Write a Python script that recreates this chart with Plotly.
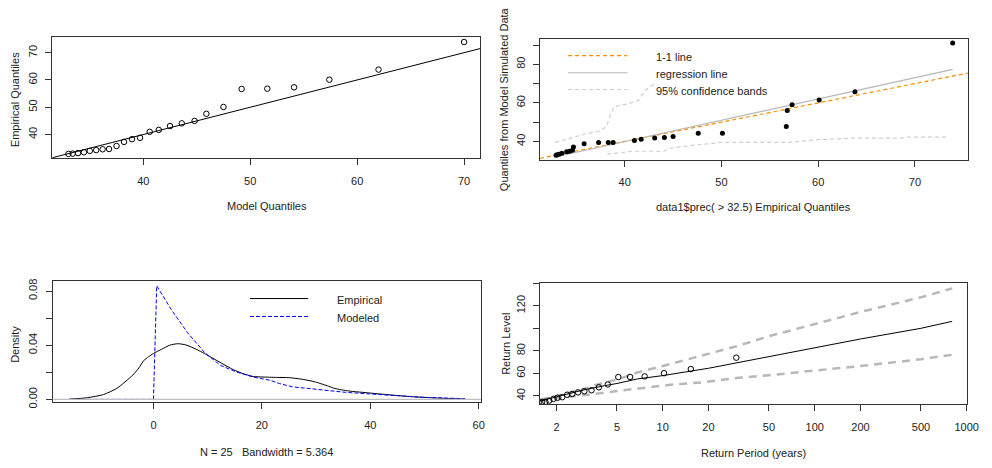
import numpy as np
import plotly.graph_objects as go

# ---------------- data ----------------
# Panel 1 / 2: quantiles
model_q = [33.0, 33.4, 33.9, 34.45, 35.0, 35.6, 36.2, 36.8, 37.5, 38.2, 38.95, 39.7, 40.6,
           41.45, 42.5, 43.6, 44.8, 45.9, 47.5, 49.2, 51.6, 54.1, 57.4, 62.0, 70.0]
emp_q = [32.9, 33.0, 33.2, 33.5, 34.0, 34.3, 34.6, 34.7, 35.8, 37.3, 38.3, 38.8, 41.0,
         41.7, 43.1, 44.1, 45.0, 47.6, 50.1, 56.7, 56.8, 57.3, 60.1, 63.8, 73.9]
sim_q = [32.8, 33.1, 33.4, 33.9, 34.7, 34.9, 35.4, 37.1, 38.8, 39.5, 39.5, 39.5, 40.5,
         41.1, 41.8, 42.1, 42.6, 44.3, 44.3, 47.7, 56.0, 59.0, 61.5, 65.8, 91.0]
band_up_x = [32.8, 34.5, 36.0, 37.5, 38.0, 38.2, 38.5, 38.9, 40.4, 41.4, 42.1, 43.0]
band_up_y = [39.5, 42.0, 44.0, 45.5, 47.5, 49.0, 53.6, 57.9, 59.6, 61.3, 66.4, 69.8]
band_lo_x = [38.2, 40.7, 44.0, 44.8, 47.6, 50.0, 57.0, 60.0, 63.5, 68.5, 69.0, 73.4]
band_lo_y = [33.4, 34.9, 34.9, 36.6, 38.3, 39.5, 39.5, 40.9, 41.7, 41.7, 42.2, 42.2]

# Panel 3: densities
dens_emp_x = [-15.5, -12.2, -9.2, -6.8, -3.8, -2.7, -1.8, -0.9, 0.0, 1.5, 3.0, 4.5, 6.0, 7.9,
              9.4, 11.2, 13.0, 14.8, 16.6, 18.4, 20.2, 22.7, 25.1, 27.5, 29.9, 32.3, 33.5,
              36.0, 39.9, 44.4, 48.0, 52.8, 57.5]
dens_emp_y = [0.0002, 0.0012, 0.0036, 0.0080, 0.0180, 0.0232, 0.0286, 0.0315, 0.0339, 0.0370,
              0.0400, 0.0411, 0.0402, 0.0370, 0.0339, 0.0298, 0.0257, 0.0218, 0.0189, 0.0169,
              0.0165, 0.0162, 0.0160, 0.0148, 0.0128, 0.0097, 0.0080, 0.0062, 0.0047, 0.0030,
              0.0019, 0.0009, 0.0002]
dens_mod_x = [-15.5, 0.0, 0.6, 1.8, 3.3, 6.3, 9.4, 12.4, 15.4, 18.4, 21.5, 23.3, 25.7, 28.7,
              31.7, 33.5, 35.4, 39.9, 44.4, 49.8, 57.5]
dens_mod_y = [0.0, 0.0, 0.0839, 0.0759, 0.0662, 0.0492, 0.0347, 0.0250, 0.0201, 0.0165, 0.0141,
              0.0116, 0.0092, 0.0080, 0.0068, 0.0061, 0.0052, 0.0040, 0.0027, 0.0015, 0.0005]

# Panel 4: return levels
rp_period = [30.5, 15.3, 10.2, 7.6, 6.1, 5.1, 4.35, 3.8, 3.4, 3.05, 2.77, 2.54, 2.35, 2.18,
             2.03, 1.91, 1.79, 1.69, 1.61, 1.53, 1.45, 1.39, 1.33, 1.27, 1.22]
rl_T = [1.56, 2, 2.5, 3, 4.13, 5, 6.8, 10, 20, 30.5, 50, 100, 200, 500, 803]
rl_level = [35.4, 39.3, 43.0, 45.2, 49.0, 51.0, 55.0, 58.0, 64.5, 69.3, 75.0, 83.0, 90.5, 100.0, 106.2]
ci_up_T = [1.56, 2, 3, 3.64, 5, 6.8, 10, 13.7, 20, 30.5, 50, 100, 200, 500, 803]
ci_up = [36.8, 39.8, 46.0, 49.8, 54.5, 60.7, 66.5, 71.4, 77.5, 84.0, 93.0, 103.5, 114.5, 127.5, 135.5]
ci_lo_T = [1.56, 2, 2.5, 4.13, 6.8, 11.2, 18.5, 30.5, 40, 50, 100, 200, 500, 803]
ci_lo = [36.0, 37.8, 39.1, 43.4, 46.4, 49.8, 52.1, 55.9, 57.0, 58.3, 62.5, 66.5, 72.5, 76.5]

# tick labels
ticks_q = [40, 50, 60, 70]
ticks_p2y = [40, 50, 60, 70, 80, 90]
ticklab_p2y = ["40", "", "60", "", "80", ""]
ticks_p3x = [0, 20, 40, 60]
ticks_p3y = [0.0, 0.02, 0.04, 0.06, 0.08]
ticklab_p3y = ["0.00", "", "0.04", "", "0.08"]
ticks_p4x = [2, 5, 10, 20, 50, 100, 200, 500, 1000]
ticks_p4y = [40, 60, 80, 100, 120, 140]
ticklab_p4y = ["40", "60", "80", "", "120", ""]

# ---------------- figure ----------------
W, H = 992, 468
FONT = "Liberation Sans, Arial, sans-serif"
TXT = "#222222"


def px(x):
    return x / W


def py(y):
    return 1 - y / H


def axis(domain, rng, tickvals, ticktext, anchor, angle=0, typ="linear", standoff=6):
    return dict(domain=domain, range=rng, type=typ, anchor=anchor,
                tickmode="array", tickvals=tickvals, ticktext=ticktext,
                ticks="outside", ticklen=6, tickwidth=1, tickcolor="#333333",
                showline=True, linecolor="#333333", linewidth=1.3, mirror=True,
                showgrid=False, zeroline=False, tickangle=angle,
                ticklabelstandoff=standoff,
                tickfont=dict(family=FONT, size=11, color=TXT))


fig = go.Figure()

# Panel 1
lo1, hi1 = 31.5, 71.5
fig.add_trace(go.Scatter(x=[lo1, hi1], y=[lo1, hi1], mode="lines",
                         line=dict(color="black", width=1), xaxis="x", yaxis="y"))
fig.add_trace(go.Scatter(x=model_q, y=emp_q, mode="markers",
                         marker=dict(symbol="circle-open", size=5.5, color="black",
                                     line=dict(width=1)), xaxis="x", yaxis="y"))

# Panel 2
lo2, hi2 = 31.25, 75.5
fig.add_trace(go.Scatter(x=[lo2, hi2], y=[lo2, hi2], mode="lines",
                         line=dict(color="#ff8c00", width=1.2, dash="4px,3px"),
                         xaxis="x2", yaxis="y2"))
slope, icpt = np.polyfit(emp_q, sim_q, 1)
reg_x = [min(emp_q), max(emp_q)]
fig.add_trace(go.Scatter(x=reg_x, y=[icpt + slope * v for v in reg_x], mode="lines",
                         line=dict(color="#b8b8b8", width=1.2), xaxis="x2", yaxis="y2"))
fig.add_trace(go.Scatter(x=band_up_x, y=band_up_y, mode="lines",
                         line=dict(color="#cfcfcf", width=1.2, dash="4px,3px"),
                         xaxis="x2", yaxis="y2"))
fig.add_trace(go.Scatter(x=band_lo_x, y=band_lo_y, mode="lines",
                         line=dict(color="#cfcfcf", width=1.2, dash="4px,3px"),
                         xaxis="x2", yaxis="y2"))
fig.add_trace(go.Scatter(x=emp_q, y=sim_q, mode="markers",
                         marker=dict(symbol="circle", size=5, color="black"),
                         xaxis="x2", yaxis="y2"))

# Panel 3
fig.add_shape(type="line", xref="x3 domain", yref="y3", x0=0, x1=1, y0=0, y1=0,
              line=dict(color="#bebebe", width=1.2))
fig.add_trace(go.Scatter(x=dens_emp_x, y=dens_emp_y, mode="lines",
                         line=dict(color="black", width=1, shape="spline", smoothing=0.6),
                         xaxis="x3", yaxis="y3"))
fig.add_trace(go.Scatter(x=dens_mod_x, y=dens_mod_y, mode="lines",
                         line=dict(color="#0000ff", width=1, dash="4px,2px"),
                         xaxis="x3", yaxis="y3"))

# Panel 4
fig.add_trace(go.Scatter(x=ci_up_T, y=ci_up, mode="lines",
                         line=dict(color="#b8b8b8", width=2.5, dash="8px,6px"),
                         xaxis="x4", yaxis="y4"))
fig.add_trace(go.Scatter(x=ci_lo_T, y=ci_lo, mode="lines",
                         line=dict(color="#b8b8b8", width=2.5, dash="8px,6px"),
                         xaxis="x4", yaxis="y4"))
fig.add_trace(go.Scatter(x=rl_T, y=rl_level, mode="lines",
                         line=dict(color="black", width=1), xaxis="x4", yaxis="y4"))
fig.add_trace(go.Scatter(x=rp_period, y=list(reversed(emp_q)), mode="markers",
                         marker=dict(symbol="circle-open", size=5.5, color="black",
                                     line=dict(width=1)), xaxis="x4", yaxis="y4"))


# ---- legends (drawn as layout decorations) ----
def leg_line(x0, x1, y, color, dash, width=1.2):
    fig.add_shape(type="line", xref="paper", yref="paper", x0=px(x0), x1=px(x1),
                  y0=py(y), y1=py(y), line=dict(color=color, width=width, dash=dash))


def text(x, y, s, anchor="left", angle=0, size=11):
    fig.add_annotation(x=px(x), y=py(y), xref="paper", yref="paper", text=s,
                       showarrow=False, xanchor=anchor, yanchor="middle",
                       textangle=angle, font=dict(family=FONT, size=size, color=TXT))


leg_line(575, 635, 54.5, "#ff8c00", "4px,3px")
leg_line(575, 635, 72.0, "#b8b8b8", "solid")
leg_line(575, 635, 89.0, "#cfcfcf", "4px,3px")
text(662, 55.5, "1-1 line")
text(662, 73.5, "regression line")
text(662, 90.5, "95% confidence bands")

leg_line(253, 312, 301.7, "black", "solid", 1)
leg_line(253, 312, 320, "#0000ff", "4px,2px", 1)
text(339, 303, "Empirical")
text(339, 321, "Modeled")

# axis titles
text(270, 208, "Model Quantiles", anchor="center")
text(15, 99, "Empirical Quantiles", anchor="center", angle=-90)
text(763, 209, "data1$prec( &gt; 32.5) Empirical Quantiles", anchor="center")
text(510, 99, "Quantiles from Model Simulated Data", anchor="center", angle=-90)
text(270, 457.5, "N = 25   Bandwidth = 5.364", anchor="center")
text(15, 348, "Density", anchor="center", angle=-90)
text(763, 459, "Return Period (years)", anchor="center")
text(511.5, 347.5, "Return Level", anchor="center", angle=-90)

fig.update_layout(
    width=W, height=H, margin=dict(l=0, r=0, t=0, b=0),
    paper_bgcolor="white", plot_bgcolor="white", showlegend=False,
    font=dict(family=FONT, size=11, color=TXT),
    xaxis=axis([px(53), px(486)], [lo1, hi1], ticks_q, [str(v) for v in ticks_q], "y"),
    yaxis=axis([py(159), py(36)], [31.3, 75.6], ticks_q, [str(v) for v in ticks_q], "x",
               angle=-90, standoff=4),
    xaxis2=axis([px(546.7), px(980)], [lo2, hi2], ticks_q, [str(v) for v in ticks_q], "y2"),
    yaxis2=axis([py(160.7), py(37.3)], [30.4, 93.3], ticks_p2y, ticklab_p2y, "x2",
                angle=-90, standoff=4),
    xaxis3=axis([px(53.3), px(486.7)], [-18.6, 60.4], ticks_p3x, [str(v) for v in ticks_p3x], "y3"),
    yaxis3=axis([py(407.3), py(284)], [-0.0022, 0.0873], ticks_p3y, ticklab_p3y, "x3",
                angle=-90, standoff=4),
    xaxis4=axis([px(546.7), px(979)], [0.193, 3.003], ticks_p4x, [str(v) for v in ticks_p4x],
                "y4", typ="log"),
    yaxis4=axis([py(409.3), py(285.7)], [32.5, 140.4], ticks_p4y, ticklab_p4y, "x4",
                angle=-90, standoff=4),
)

fig.write_html("out.html")
